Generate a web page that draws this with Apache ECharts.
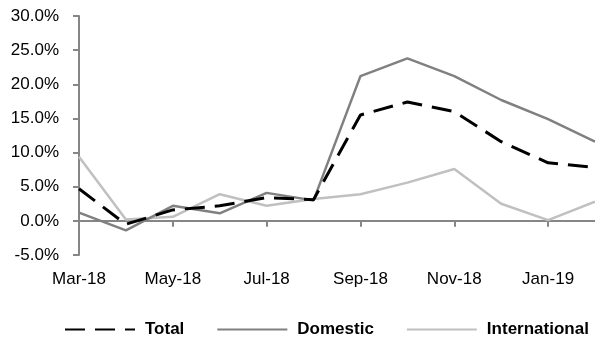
<!DOCTYPE html>
<html>
<head>
<meta charset="utf-8">
<script src="https://cdn.jsdelivr.net/npm/echarts@6/dist/echarts.min.js"></script>
<style>
  html, body { margin: 0; padding: 0; background: #fff; }
  #chart { width: 595px; height: 341px; }
</style>
</head>
<body>
<div id="chart"></div>
<script>
const months = ["Mar-18", "Apr-18", "May-18", "Jun-18", "Jul-18", "Aug-18",
  "Sep-18", "Oct-18", "Nov-18", "Dec-18", "Jan-19", "Feb-19"];
const total = [4.7, -0.5, 1.6, 2.2, 3.4, 3.1, 15.5, 17.4, 16.0, 11.6, 8.5, 7.8];
const domestic = [1.2, -1.4, 2.2, 1.1, 4.1, 3.0, 21.2, 23.8, 21.2, 17.7, 14.9, 11.6];
const international = [9.4, 0.2, 0.6, 3.9, 2.2, 3.2, 3.9, 5.6, 7.6, 2.5, 0.1, 2.8];

const font = "'Liberation Sans', Arial, sans-serif";
const axisGray = "#868686";

const chart = echarts.init(document.getElementById("chart"));

chart.setOption({
  animation: false,
  backgroundColor: "#fff",
  grid: { left: 79, right: 0, top: 16, bottom: 86 },
  legend: {
    left: 64,
    top: 321,
    width: 540,
    padding: 0,
    itemWidth: 70,
    itemHeight: 14,
    itemGap: 32,
    itemStyle: { opacity: 0 },
    textStyle: { fontFamily: font, fontSize: 17, fontWeight: "bold", color: "#000", padding: [0, 0, 0, 5] },
    data: ["Total", "Domestic", "International"]
  },
  xAxis: [
    {
      type: "category",
      data: months,
      boundaryGap: false,
      axisLine: { onZero: true, lineStyle: { color: axisGray, width: 2 } },
      axisTick: { show: true, interval: 1, length: 6, lineStyle: { color: axisGray, width: 2 } },
      axisLabel: { show: false },
      splitLine: { show: false }
    },
    {
      type: "category",
      data: months,
      boundaryGap: false,
      position: "bottom",
      axisLine: { show: false, onZero: false },
      axisTick: { show: false },
      axisLabel: { interval: 1, margin: 16, fontFamily: font, fontSize: 17, color: "#000" },
      splitLine: { show: false }
    }
  ],
  yAxis: {
    type: "value",
    min: -5,
    max: 30,
    interval: 5,
    axisLine: { show: true, lineStyle: { color: axisGray, width: 2 } },
    axisTick: { show: true, inside: false, length: 6, lineStyle: { color: axisGray, width: 2 } },
    axisLabel: {
      margin: 20,
      fontFamily: font,
      fontSize: 17,
      color: "#000",
      formatter: (v) => v.toFixed(1) + "%"
    },
    splitLine: { show: false }
  },
  series: [
    {
      name: "Total",
      type: "line",
      data: total,
      symbol: "none",
      z: 3,
      lineStyle: { color: "#000", width: 3, type: [20, 10] },
      itemStyle: { color: "#000" }
    },
    {
      name: "Domestic",
      type: "line",
      data: domestic,
      symbol: "none",
      z: 2,
      lineStyle: { color: "#808080", width: 2.5 },
      itemStyle: { color: "#808080" }
    },
    {
      name: "International",
      type: "line",
      data: international,
      symbol: "none",
      z: 1,
      lineStyle: { color: "#c0c0c0", width: 2.5 },
      itemStyle: { color: "#c0c0c0" }
    }
  ]
});
</script>
</body>
</html>
